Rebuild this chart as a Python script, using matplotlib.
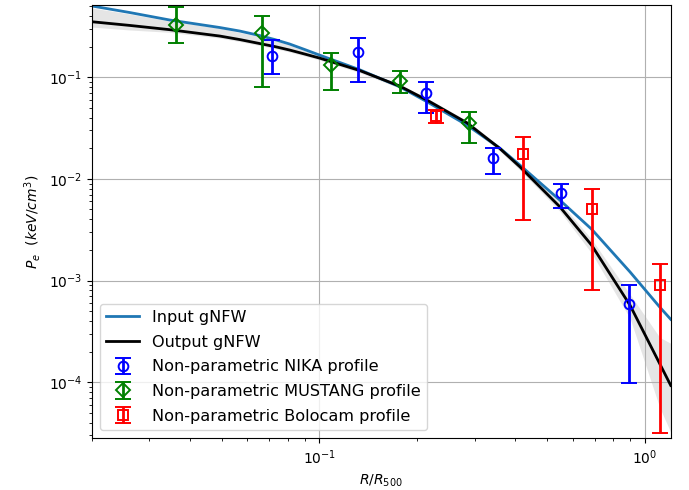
import numpy as np
import matplotlib
matplotlib.use("Agg")
import matplotlib.pyplot as plt

# radii (R/R500)
r_model = [0.02, 0.0261, 0.0347, 0.0494, 0.0569, 0.0655, 0.0729, 0.081, 0.0901, 0.1,
           0.133, 0.1765, 0.214, 0.284, 0.358, 0.413, 0.548, 0.686, 0.9, 1.11, 1.2]
p_input = [0.503, 0.434, 0.366, 0.3088, 0.2851, 0.2575, 0.2351, 0.2124, 0.1875, 0.1655,
           0.1185, 0.0806, 0.0574, 0.0338, 0.0201, 0.01365, 0.00617, 0.003195, 0.001213,
           0.000548, 0.000415]
p_output = [0.352, 0.324, 0.294, 0.2546, 0.2351, 0.2148, 0.2006, 0.1854, 0.1693, 0.1546,
            0.1164, 0.0819, 0.0596, 0.0356, 0.01994, 0.01313, 0.0053, 0.002222, 0.00057,
            0.0001518, 0.0000928]
band_hi = [0.481, 0.42, 0.358, 0.305, 0.2757, 0.2518, 0.2299, 0.2076, 0.1832, 0.1636,
           0.1215, 0.0857, 0.0624, 0.0374, 0.021, 0.01396, 0.00589, 0.002545, 0.000731,
           0.000276, 0.000241]
band_lo = [0.312, 0.292, 0.277, 0.243, 0.2247, 0.2052, 0.1918, 0.1771, 0.1618, 0.1477,
           0.1108, 0.0782, 0.057, 0.0338, 0.01875, 0.01218, 0.0048, 0.001853, 0.000424,
           0.0000563, 0.000032]

# NIKA
r_nika = [0.0717, 0.1314, 0.212, 0.342, 0.551, 0.895]
p_nika = [0.162, 0.178, 0.0694, 0.0161, 0.00728, 5.83e-4]
lo_nika = [0.1075, 0.089, 0.0441, 0.01105, 0.00523, 9.9e-5]
hi_nika = [0.2325, 0.2415, 0.0897, 0.0202, 0.00901, 9.03e-4]

# MUSTANG
r_must = [0.0362, 0.0664, 0.1083, 0.1766, 0.288]
p_must = [0.327, 0.274, 0.132, 0.0924, 0.0351]
lo_must = [0.216, 0.0795, 0.0748, 0.0703, 0.0226]
hi_must = [0.489, 0.401, 0.174, 0.115, 0.0454]

# Bolocam
r_bolo = [0.228, 0.421, 0.686, 1.114]
p_bolo = [0.0415, 0.0174, 0.00506, 8.97e-4]
lo_bolo = [0.0351, 0.00392, 8.13e-4, 3.17e-5]
hi_bolo = [0.0475, 0.0259, 0.00787, 1.445e-3]


def yerr(p, lo, hi):
    p = np.array(p)
    return [p - np.array(lo), np.array(hi) - p]


fig = plt.figure(figsize=(6.89, 4.9), dpi=100)
ax = fig.add_axes([0.1335, 0.1055, 0.84, 0.8835])

ax.fill_between(r_model, band_lo, band_hi, color='gray', alpha=0.2, lw=0)
ax.plot(r_model, p_input, color='#1f77b4', lw=2, label='Input gNFW')
ax.plot(r_model, p_output, color='k', lw=2, label='Output gNFW')

ekw = dict(ls='none', mfc='none', capsize=6, elinewidth=2, capthick=1.5, ms=7, mew=1.4)
ax.errorbar(r_nika, p_nika, yerr=yerr(p_nika, lo_nika, hi_nika), fmt='o', color='b',
            label='Non-parametric NIKA profile', **ekw)
ax.errorbar(r_must, p_must, yerr=yerr(p_must, lo_must, hi_must), fmt='D', color='g',
            label='Non-parametric MUSTANG profile', **ekw)
ax.errorbar(r_bolo, p_bolo, yerr=yerr(p_bolo, lo_bolo, hi_bolo), fmt='s', color='r',
            label='Non-parametric Bolocam profile', **ekw)

ax.set_xscale('log')
ax.set_yscale('log')
ax.set_xlim(0.02, 1.2)
ax.set_ylim(2.8e-5, 0.51)
ax.grid(True, which='major', color='#b0b0b0')
ax.set_xlabel(r'$R/R_{500}$')
ax.set_ylabel(r'$P_e\ \ (keV/cm^3)$')
ax.legend(loc='lower left', fontsize=11.6, labelspacing=0.6)

fig.savefig('out.png', dpi=100)
